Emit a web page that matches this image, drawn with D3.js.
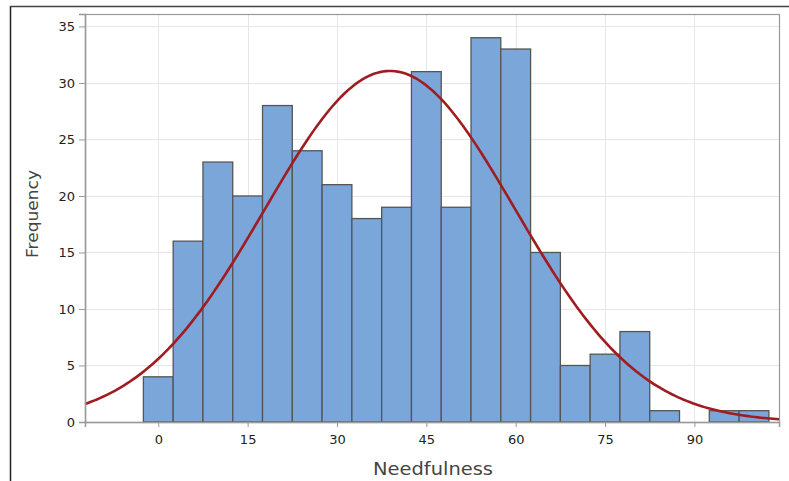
<!DOCTYPE html>
<html>
<head>
<meta charset="utf-8">
<script src="https://cdn.jsdelivr.net/npm/d3@7"></script>
<style>
  body { margin: 0; background: #fff; }
  text { font-family: "DejaVu Sans", "Open Sans", sans-serif; }
</style>
</head>
<body>
<svg id="chart" width="789" height="481"></svg>
<script>
// bin midpoints (bin width 5) and counts
var binMids = [0, 5, 10, 15, 20, 25, 30, 35, 40, 45, 50, 55, 60, 65, 70, 75, 80, 85, 90, 95, 100]
var counts = [4, 16, 23, 20, 28, 24, 21, 18, 19, 31, 19, 34, 33, 15, 5, 6, 8, 1, 0, 1, 1]
var binWidth = 5
var xTicks = [0, 15, 30, 45, 60, 75, 90]
var yTicks = [0, 5, 10, 15, 20, 25, 30, 35]
// normal fit parameters
var fitMean = 38.9
var fitSd = 21.0

var svg = d3.select('#chart')
var margin = {left: 85, top: 14, right: 10, bottom: 59}
var W = 789, H = 481
var x = d3.scaleLinear().domain([-12.3, 104.2]).range([margin.left, W - margin.right])
var y = d3.scaleLinear().domain([0, 36.1]).range([422, margin.top])

// outer frame (only left and top edges visible)
svg.append('line').attr('x1', 10.5).attr('x2', 10.5).attr('y1', 6).attr('y2', H)
  .attr('stroke', '#222').attr('stroke-width', 1.5)
svg.append('line').attr('x1', 10).attr('x2', W).attr('y1', 6.5).attr('y2', 6.5)
  .attr('stroke', '#444').attr('stroke-width', 1.5)

// gridlines
svg.append('g').selectAll('line').data(yTicks.slice(1)).join('line')
  .attr('x1', margin.left).attr('x2', W - margin.right)
  .attr('y1', d => Math.round(y(d)) + 0.5).attr('y2', d => Math.round(y(d)) + 0.5)
  .attr('stroke', '#e6e6e6').attr('stroke-width', 1)
svg.append('g').selectAll('line').data(xTicks).join('line')
  .attr('y1', margin.top).attr('y2', y(0))
  .attr('x1', d => Math.round(x(d)) + 0.5).attr('x2', d => Math.round(x(d)) + 0.5)
  .attr('stroke', '#e6e6e6').attr('stroke-width', 1)

// plot frame
svg.append('rect').attr('x', margin.left + 0.5).attr('y', margin.top + 0.5)
  .attr('width', W - margin.right - margin.left).attr('height', y(0) - margin.top)
  .attr('fill', 'none').attr('stroke', '#999').attr('stroke-width', 1.2)

// bars
var bins = binMids.map((m, i) => ({mid: m, n: counts[i]})).filter(d => d.n > 0)
svg.append('g').selectAll('rect').data(bins).join('rect')
  .attr('x', d => x(d.mid - binWidth / 2))
  .attr('width', d => x(d.mid + binWidth / 2) - x(d.mid - binWidth / 2))
  .attr('y', d => y(d.n))
  .attr('height', d => y(0) - y(d.n))
  .attr('fill', '#7aa6d9').attr('stroke', '#555').attr('stroke-width', 1.3)

// normal fit curve
var total = d3.sum(counts)
function fit (v) {
  var z = (v - fitMean) / fitSd
  return total * binWidth / (fitSd * Math.sqrt(2 * Math.PI)) * Math.exp(-0.5 * z * z)
}
var xs = d3.range(x.domain()[0], x.domain()[1] + 0.01, 0.5)
svg.append('path').datum(xs)
  .attr('d', d3.line().x(d => x(d)).y(d => y(fit(d))))
  .attr('fill', 'none').attr('stroke', '#a01c20').attr('stroke-width', 2.6)

// axes
var xAxis = svg.append('g').attr('transform', 'translate(0,' + y(0) + ')')
  .call(d3.axisBottom(x).tickValues(xTicks).tickSize(5).tickPadding(8))
var yAxis = svg.append('g').attr('transform', 'translate(' + margin.left + ',0)')
  .call(d3.axisLeft(y).tickValues(yTicks).tickSize(6).tickPadding(4))
;[xAxis, yAxis].forEach(g => {
  g.select('.domain').attr('stroke', '#999').attr('stroke-width', 1.5)
  g.selectAll('.tick line').attr('stroke', '#999')
  g.selectAll('.tick text').attr('fill', '#222').style('font-size', '13px')
    .style('font-family', '"DejaVu Sans", sans-serif')
})

// axis titles
svg.append('text').attr('x', 433).attr('y', 475).attr('text-anchor', 'middle')
  .attr('fill', '#444').style('font-size', '17px')
  .attr('textLength', 120).attr('lengthAdjust', 'spacingAndGlyphs')
  .text('Needfulness')
svg.append('text').attr('transform', 'translate(38,214) rotate(-90)')
  .attr('text-anchor', 'middle').attr('fill', '#444').style('font-size', '16px')
  .attr('textLength', 88).attr('lengthAdjust', 'spacingAndGlyphs')
  .text('Frequency')
</script>
</body>
</html>
